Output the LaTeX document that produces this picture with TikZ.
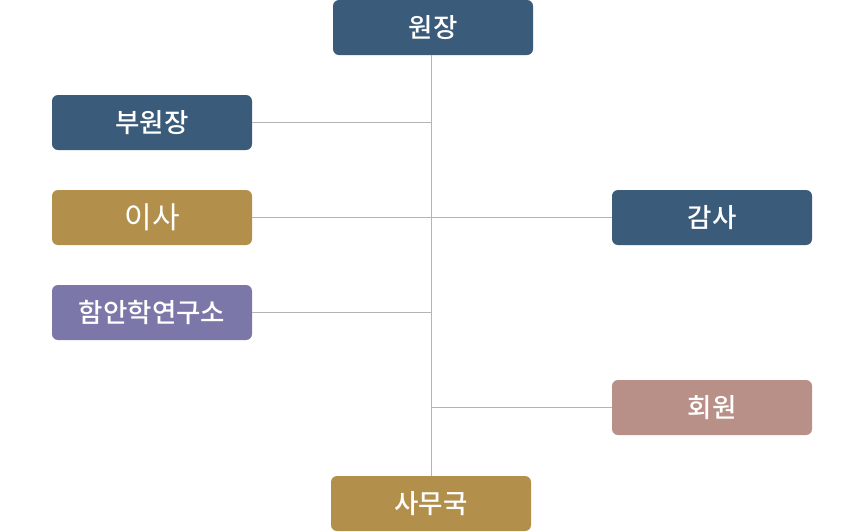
\documentclass[tikz,border=0pt]{standalone}
\usepackage{fontspec}
\newfontfamily\kr{Noto Sans CJK KR Medium}
\newfontfamily\krreg{Noto Sans CJK KR}
\definecolor{cblue}{HTML}{3B5B7B}
\definecolor{cgold}{HTML}{B28F4B}
\definecolor{cpurple}{HTML}{7B77A8}
\definecolor{crose}{HTML}{B89087}
\definecolor{cline}{HTML}{B4B4B4}
\begin{document}
\begin{tikzpicture}[x=1pt,y=-1pt,
  box/.style={rounded corners=6pt, minimum width=200pt, minimum height=55pt, inner sep=0pt, text=white, font=\kr\fontsize{26.5}{30}\selectfont},
  conn/.style={draw=cline, line width=1pt}]
\useasboundingbox (0,0) rectangle (864,531);
\node[box, fill=cblue] (wj) at (433,27.5) {원장};
\node[box, fill=cblue] (bwj) at (152,122.5) {부원장};
\node[box, fill=cgold, font=\krreg\fontsize{30}{34}\selectfont] (isa) at (152,217.5) {이사};
\node[box, fill=cblue] (gs) at (712,217.5) {감사};
\node[box, fill=cpurple] (hy) at (152,312.5) {함안학연구소};
\node[box, fill=crose] (hw) at (712,407.5) {회원};
\node[box, fill=cgold] (smg) at (431,503.5) {사무국};
\coordinate (top) at (431,55);
\coordinate (bot) at (431,476);
\coordinate (j1) at (431,122.5);
\coordinate (j2) at (431,217.5);
\coordinate (j3) at (431,312.5);
\coordinate (j4) at (431,407.5);
\draw[conn] (top) -- (smg.north -| bot);
\draw[conn] (bwj.east) -- (j1);
\draw[conn] (isa.east) -- (gs.west);
\draw[conn] (hy.east) -- (j3);
\draw[conn] (j4) -- (hw.west);
\end{tikzpicture}
\end{document}
